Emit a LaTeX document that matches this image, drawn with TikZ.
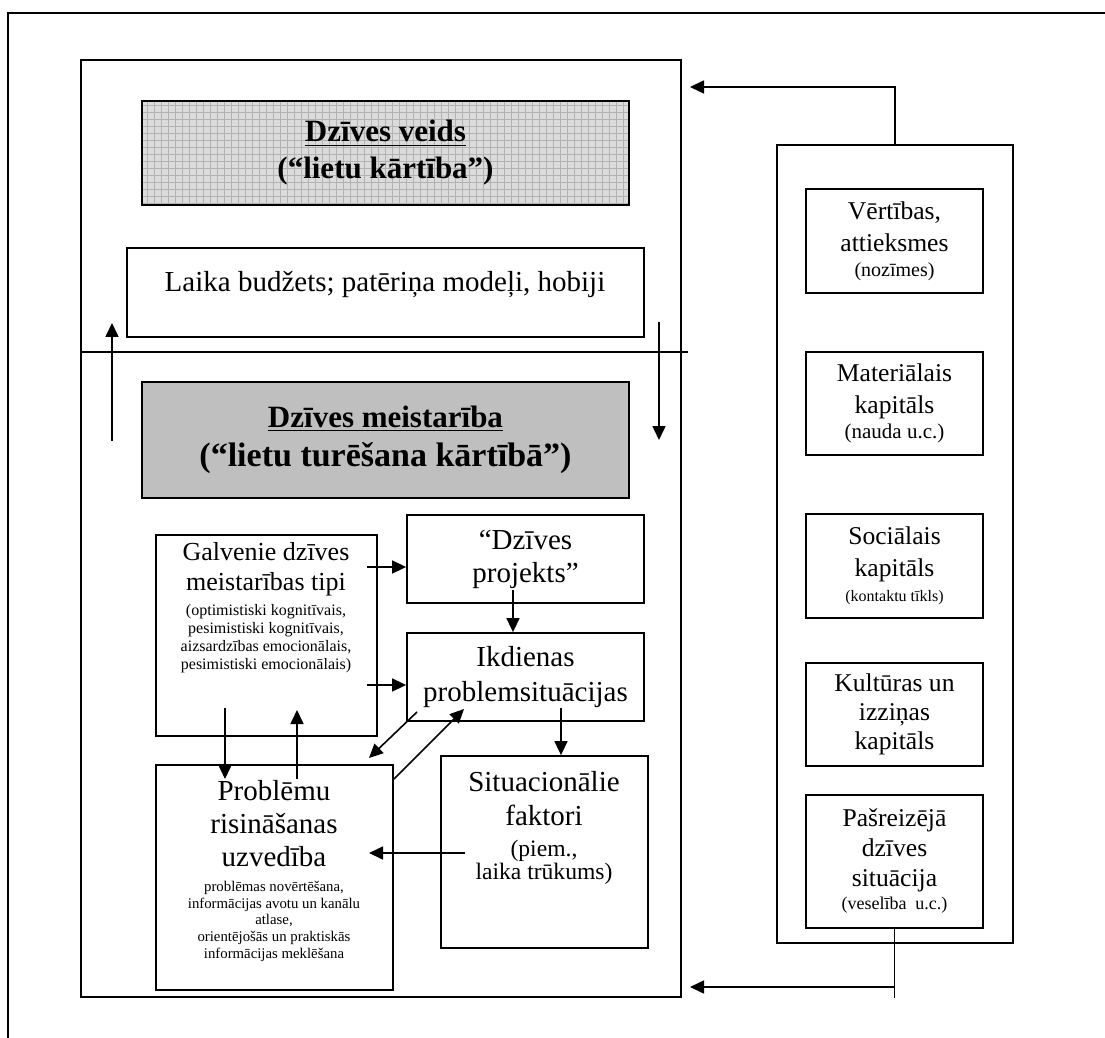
\documentclass[tikz,border=0pt]{standalone}
\usepackage{fontspec}
\setmainfont{Liberation Serif}
\usetikzlibrary{arrows.meta,fit}

\tikzset{
  box/.style={draw, line width=0.9pt, inner sep=0pt},
  arr/.style={line width=0.8pt, -{Triangle[length=7pt,width=6.5pt]}},
  big/.style={font=\fontsize{14.5}{16.5}\selectfont, align=center},
  ttl/.style={font=\bfseries\fontsize{15.5}{18.5}\selectfont, align=center},
  rc/.style={font=\fontsize{12.8}{16}\selectfont, align=center},
}
\newcommand{\fsz}[2]{{\fontsize{#1}{#1}\selectfont #2}}

\begin{document}
\begin{tikzpicture}[x=0.5pt,y=-0.5pt]
\useasboundingbox (0,0) rectangle (1105,1038);

% outer frame
\draw[line width=1pt] (8,1038) -- (8,13) -- (1105,13);

% main box
\node[box, line width=1pt, fit={(81,60) (681,997)}] (main) {};

% Dzives veids (grid shading)
\fill[black!14] (142,101) rectangle (629,205);
\draw[black!30, line width=0.3pt, step=3.5pt] (142,101) grid (629,205);
\node[box, fit={(142,101) (629,205)}] (veids) {};
\node[ttl] (veidsT) at (veids) {\underline{Dzīves veids}\\(“lietu kārtība”)};

% Laika budzets
\node[box, fit={(127,248) (644,337)}] (laika) {};
\node[big] (laikaT) at (385,284) {Laika budžets; patēriņa modeļi, hobiji};

% dividing line
\coordinate (divR) at (688,352);
\draw[line width=0.9pt] (divR -| main.west) -- (divR);

% up / down arrows
\coordinate (upB) at (112,441);
\coordinate (upT) at (112,323);
\draw[arr] (upB) -- (upT);
\coordinate (dnT) at (659,322);
\coordinate (dnB) at (659,440);
\draw[arr] (dnT) -- (dnB);

% Dzives meistariba
\fill[black!25] (142,382) rectangle (629,498);
\node[box, fit={(142,382) (629,498)}] (meist) {};
\node[ttl] (meistT) at (meist)
  {\underline{Dzīves meistarība}\\[1pt]\fsz{17}{(“lietu turēšana kārtībā”)}};

% inner boxes
\node[box, fit={(156,535) (377,736)}] (galv) {};
\node[font=\fontsize{13}{15}\selectfont, align=center] (galvT) at (266,608)
  {Galvenie dzīves\\meistarības tipi\\[-2.5pt]\fsz{8}{(optimistiski kognitīvais,}\\[-6pt]%
   \fsz{8}{pesimistiski kognitīvais,}\\[-6pt]\fsz{8}{aizsardzības emocionālais,}\\[-6pt]%
   \fsz{8}{pesimistiski emocionālais)}};

\node[box, fit={(407,515) (644,603)}] (proj) {};
\node[big] (projT) at (proj) {“Dzīves\\projekts”};
\node[box, fit={(407,633) (644,721)}] (ikd) {};
\node[big] (ikdT) at (ikd) {Ikdienas\\[1pt]problemsituācijas};

\node[box, fit={(441,756) (648,948)}] (sit) {};
\node[big] (sitT) at (544,828)
  {Situacionālie\\[0.5pt]faktori\\[-1pt]\fsz{11.8}{(piem.,}\\[-5pt]\fsz{11.8}{laika trūkums)}};

\node[box, fit={(156,765) (393,990)}] (prob) {};
\node[big] (probT) at (274,871)
  {Problēmu\\risināšanas\\uzvedība\\[-4pt]\fsz{7.4}{problēmas novērtēšana,}\\[-8.2pt]%
   \fsz{7.4}{informācijas avotu un kanālu}\\[-8.2pt]\fsz{7.4}{atlase,}\\[-8.2pt]%
   \fsz{7.4}{orientējošās un praktiskās}\\[-8.2pt]\fsz{7.4}{informācijas meklēšana}};

% connectors inside
\coordinate (gp) at (367,567);
\draw[arr] (gp) -- (gp -| proj.west);
\coordinate (gi) at (367,685);
\draw[arr] (gi) -- (gi -| ikd.west);
\coordinate (pi) at (513,590);
\draw[arr] (pi) -- (pi |- ikd.north);
\coordinate (is) at (561,708);
\draw[arr] (is) -- (is |- sit.north);
\coordinate (gdA) at (225,708);
\coordinate (gdB) at (225,779);
\draw[arr] (gdA) -- (gdB);
\coordinate (guA) at (297,779);
\coordinate (guB) at (297,710);
\draw[arr] (guA) -- (guB);
\coordinate (ipA) at (417,712);
\coordinate (ipB) at (369,758);
\draw[arr] (ipA) -- (ipB);
\coordinate (piA) at (394,779);
\coordinate (piB) at (464,709);
\draw[arr] (piA) -- (piB);
\coordinate (spA) at (465,853);
\coordinate (spB) at (369,853);
\draw[arr] (spA) -- (spB);

% right column
\node[box, line width=1pt, fit={(777,145) (1013,943)}] (rcol) {};
\node[box, fit={(806,189) (983,293)}] (vert) {};
\node[rc] (vertT) at (vert) {Vērtības,\\attieksmes\\[-3.5pt]\fsz{10}{(nozīmes)}};
\node[box, fit={(806,352) (983,455)}] (mat) {};
\node[rc] (matT) at (mat) {Materiālais\\kapitāls\\[-3.5pt]\fsz{10.5}{(nauda u.c.)}};
\node[box, fit={(806,514) (983,618)}] (soc) {};
\node[rc] (socT) at (soc) {Sociālais\\kapitāls\\[-3.5pt]\fsz{8}{(kontaktu tīkls)}};
\node[box, fit={(806,663) (983,766)}] (kult) {};
\node[rc] (kultT) at (kult) {Kultūras un\\[-1.5pt]izziņas\\[-1.5pt]kapitāls};
\node[box, fit={(806,795) (983,928)}] (pas) {};
\node[rc] (pasT) at (pas) {Pašreizējā\\[-1pt]dzīves\\[-1pt]situācija\\[-4.5pt]\fsz{9}{(veselība\ \ u.c.)}};

% feedback connectors
\coordinate (topy) at (0,87);
\draw[arr, shorten >=4pt] (rcol.north) -- (rcol.north |- topy) -- (topy -| main.east);
\coordinate (boty) at (0,987);
\draw[line width=0.8pt] (pas.south) -- (pas.south |- main.south);
\draw[arr, shorten >=4pt] (pas.south |- boty) -- (boty -| main.east);

\end{tikzpicture}
\end{document}
